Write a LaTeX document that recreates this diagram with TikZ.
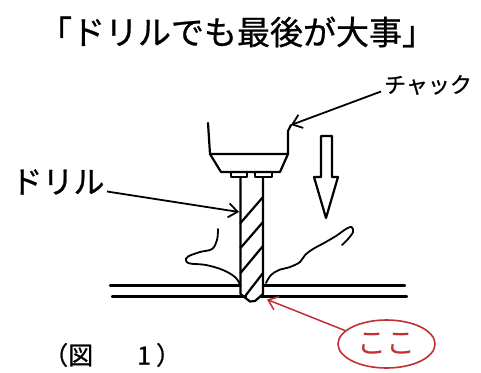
\documentclass[tikz,border=0pt]{standalone}
\usepackage{fontspec}
\newfontfamily\jp[FakeBold=0.8]{Noto Sans CJK JP}
\newfontfamily\jplight{Noto Sans CJK JP}
\usetikzlibrary{arrows.meta,shapes.geometric}
\definecolor{markred}{RGB}{192,48,52}
\begin{document}
\begin{tikzpicture}[x=1pt,y=-1pt,
  pen/.style={line width=2.2pt,line join=round,line cap=round},
  lbl/.style={inner sep=0pt,font=\jp},
  pointer/.style={line width=1.8pt,-{Straight Barb[length=9pt,width=14pt,line width=1.8pt]}},
  redpointer/.style={line width=1.5pt,color=markred,-{Straight Barb[length=9pt,width=14pt,line width=1.5pt]}}]
\useasboundingbox[fill=white] (0,0) rectangle (481,372);

% title and caption
\node[lbl,font=\jp\fontsize{33}{35}\selectfont] (title) at (237,32) {「ドリルでも最後が大事」};
\node[lbl,font=\jp\fontsize{25}{27}\selectfont,anchor=west] (fig) at (43,355)
  {（図\hspace{44pt}1\hspace{5pt}）};

% chuck body
\draw[pen] (208,123) -- (210,154) -- (288,154) -- (288,131) -- (291,125);
\draw[pen] (210,154) -- (221,172) -- (280,172) -- (288,154);
\draw[pen] (231,172) rectangle (247,177);
\draw[pen] (255,172) rectangle (272,177);

% drill
\draw[pen] (240.5,177) -- (240.5,294) -- (250,301.5) -- (255,301) -- (263,294) -- (263,177);
\foreach \a/\b in {223/197, 248/222, 273/246}
  \draw[pen] (240.5,\a) -- (263,\b);
\draw[pen] (246,295) -- (263,273);

% workpiece
\draw[pen] (110,285.5) -- (240.5,285.5);
\draw[pen] (263,285.5) -- (405,285.5);
\draw[pen] (112,296.5) -- (246,296.5);
\draw[pen] (261,296.5) -- (407,296.5);

% chips
\draw[line width=1.8pt,line cap=round] plot[smooth,tension=0.6] coordinates
  {(218,229) (217,240) (212,249) (200,252) (188,256.5) (186,260.5) (190,263.5)
   (206,265) (223,270) (235,277) (239.5,283.5)};
\draw[line width=1.8pt,line cap=round] plot[smooth,tension=0.6] coordinates
  {(266,283) (271,275) (279,270) (290,267) (300,262) (305,255) (313,249)
   (324,243) (336,236) (346,229) (351.5,227) (353,232) (348,239) (342,245)};

% feed direction arrow
\draw[pen] (321,136) -- (332,136) -- (332,177) -- (338,177) -- (326,218)
  -- (314,177) -- (321,177) -- cycle;

% labels and pointers
\node[lbl,font=\jp\fontsize{22}{24}\selectfont] (chuck) at (428,85) {チャック};
\coordinate (chuck-tail) at (381,91.5);
\coordinate (chuck-tip) at (291,125);
\draw[pointer] (chuck-tail) -- (chuck-tip);

\node[lbl,font=\jp\fontsize{31}{33}\selectfont] (drill) at (58,182) {ドリル};
\coordinate (drill-tail) at (107,191.5);
\coordinate (drill-tip) at (239,212);
\draw[pointer] (drill-tail) -- (drill-tip);

\node[ellipse,draw=markred,line width=1.6pt,minimum width=97pt,minimum height=48pt,
  inner sep=0pt,text=markred,font=\jplight\fontsize{29}{31}\selectfont] (koko) at (386.5,344) {ここ};
\coordinate (edge-point) at (267,299.5);
\draw[redpointer] (koko.162) -- (edge-point);
\end{tikzpicture}
\end{document}
